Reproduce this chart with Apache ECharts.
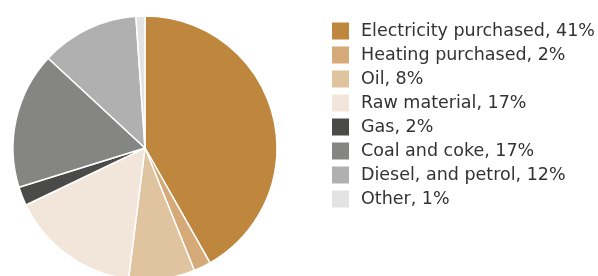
<!DOCTYPE html>
<html><head><meta charset="utf-8">
<script src="https://cdn.jsdelivr.net/npm/echarts@6/dist/echarts.min.js"></script>
<style>html,body{margin:0;padding:0;background:#fff}#c{width:598px;height:276px}</style>
</head><body><div id="c"></div>
<script>
const categories = ["Electricity purchased, 41%","Heating purchased, 2%","Oil, 8%","Raw material, 17%","Gas, 2%","Coal and coke, 17%","Diesel, and petrol, 12%","Other, 1%"];
const values = [41.8, 2.1, 8.1, 15.9, 2.3, 16.7, 12.0, 1.1];
const colors = ["#BF873D","#D5AA78","#E0C39F","#F2E6DA","#4A4A48","#858584","#B0B0B0","#E3E3E3"];
const chart = echarts.init(document.getElementById('c'));
chart.setOption({
  animation:false,
  color: colors,
  legend:{orient:'vertical',left:330,top:20,padding:0,itemWidth:19,itemHeight:19,itemGap:2,icon:'rect',
    textStyle:{fontFamily:'DejaVu Sans',fontSize:17.5,lineHeight:19,color:'#333',padding:[3,0,0,6]},
    data:categories},
  series:[{type:'pie',center:[145,148],radius:[0,132],startAngle:90,clockwise:true,
    label:{show:false},labelLine:{show:false},
    itemStyle:{borderColor:'#fff',borderWidth:1.5},
    data:categories.map((c,i)=>({name:c,value:values[i]}))}]
});
</script></body></html>
